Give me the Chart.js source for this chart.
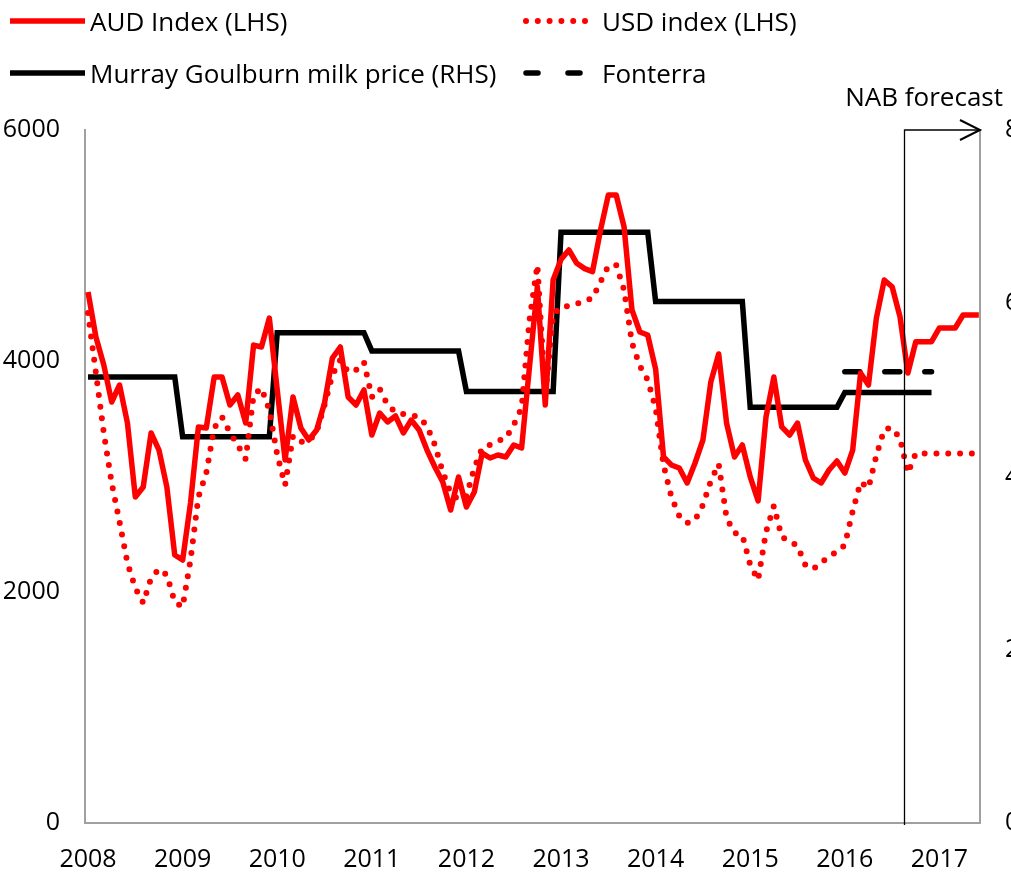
<!DOCTYPE html>
<html>
<head>
<meta charset="utf-8">
<script src="https://cdn.jsdelivr.net/npm/chart.js@4.4.1/dist/chart.umd.min.js"></script>
<style>
  body { margin: 0; background: #fff; font-family: "Open Sans", sans-serif; }
  #wrap { position: relative; width: 1011px; height: 872px; overflow: hidden; }
  #chart { position: absolute; left: 0; top: 0; }
  #legendLines { position: absolute; left: 0; top: 0; }
  .leg { position: absolute; font-size: 26px; line-height: 30px; color: #000; white-space: nowrap; }
</style>
</head>
<body>
<div id="wrap">
  <canvas id="chart" width="1011" height="872"></canvas>
  <svg id="legendLines" width="1011" height="110">
    <line x1="10" y1="21" x2="85" y2="21" stroke="#ff0000" stroke-width="5.5"/>
    <line x1="526" y1="21" x2="592" y2="21" stroke="#ff0000" stroke-width="6" stroke-linecap="round" stroke-dasharray="0 11.8"/>
    <line x1="10" y1="73" x2="85" y2="73" stroke="#000" stroke-width="5.5"/>
    <line x1="526" y1="73" x2="582" y2="73" stroke="#000" stroke-width="5.5" stroke-linecap="round" stroke-dasharray="12 30"/>
  </svg>
  <div class="leg" style="left:90px;top:6px">AUD Index (LHS)</div>
  <div class="leg" style="left:602px;top:6px">USD index (LHS)</div>
  <div class="leg" style="left:90px;top:58px">Murray Goulburn milk price (RHS)</div>
  <div class="leg" style="left:602px;top:58px">Fonterra</div>
</div>
<script>
// 月次データ 2008年1月〜
const startYear = 2008;
const audIndex = [
  4597, 4208, 3965, 3645, 3792, 3463, 2822, 2909, 3377, 3229, 2909, 2320,
  2277, 2770, 3429, 3420, 3861, 3861, 3619, 3706, 3463, 4138, 4121, 4372,
  3750, 3143, 3688, 3420, 3316, 3403, 3636, 4026, 4121, 3688, 3619, 3749,
  3359, 3550, 3472, 3524, 3377, 3489, 3403, 3229, 3082, 2952, 2710, 2996,
  2736, 2866, 3203, 3160, 3186, 3169, 3273, 3247, 3950, 4643, 3619, 4701,
  4880, 4961, 4846, 4800, 4774, 5130, 5437, 5437, 5160, 4442, 4251, 4225,
  3930, 3170, 3100, 3074, 2944, 3117, 3316, 3818, 4061, 3463, 3169, 3273,
  2996, 2788, 3515, 3861, 3429, 3359, 3463, 3143, 2987, 2944, 3056, 3134,
  3030, 3229, 3896, 3792, 4370, 4701, 4643, 4383, 3896, 4167, 4167, 4167,
  4286, 4286, 4286, 4398, 4398, 4398
];
const usdIndex = [
  4415, 3896, 3377, 2944, 2606, 2251, 2035, 1905, 2121, 2199, 2147, 1913,
  1870, 2277, 2822, 3030, 3420, 3515, 3380, 3270, 3150, 3705, 3766, 3576,
  3186, 2926, 3350, 3299, 3307, 3385, 3619, 3879, 4009, 3905, 3922, 3991,
  3688, 3758, 3619, 3558, 3541, 3532, 3515, 3437, 3273, 3039, 2857, 2800,
  2830, 3074, 3247, 3273, 3307, 3333, 3446, 3593, 4355, 4831, 3700, 4400,
  4470, 4476, 4494, 4520, 4545, 4684, 4822, 4831, 4615, 4156, 3957, 3835,
  3593, 3100, 2822, 2658, 2597, 2623, 2753, 2961, 3108, 2641, 2511, 2493,
  2234, 2104, 2519, 2745, 2476, 2442, 2398, 2234, 2199, 2251, 2312, 2346,
  2407, 2700, 2950, 2900, 3180, 3410, 3420, 3330, 3030, 3200, 3200, 3200,
  3200, 3200, 3200, 3200, 3200, 3200
];
// 乳価（シーズン毎、12ヶ月ずつ）
const mgSeasonPrice = [5.15, 4.46, 5.66, 5.45, 4.98, 6.82, 6.02, 4.80, 4.97];
const fonterraSeasonPrice = [null, null, null, null, null, null, null, null, 5.21];

const xTickLabels = ['2008', '2009', '2010', '2011', '2012', '2013', '2014', '2015', '2016', '2017'];
const leftTicks = [0, 2000, 4000, 6000];
const rightTicks = [0, 2, 4, 6, 8];
const forecastStart = 2016.63;

const monthX = i => startYear + i / 12;
const toPoints = arr => arr.map((v, i) => ({ x: monthX(i), y: v }));
const seasonPoints = arr => {
  const pts = [];
  arr.forEach((v, s) => {
    if (v == null) return;
    for (let m = 0; m < 12; m++) pts.push({ x: monthX(s * 12 + m), y: v });
  });
  return pts;
};

const FONT = '"Open Sans", sans-serif';

const forecastMarker = {
  id: 'forecastMarker',
  afterDatasetsDraw(chart) {
    const { ctx, chartArea, scales } = chart;
    const x = Math.round(scales.x.getPixelForValue(forecastStart)) + 0.5;
    const top = chartArea.top;
    ctx.save();
    ctx.strokeStyle = '#000';
    ctx.lineWidth = 1.3;
    ctx.beginPath();
    ctx.moveTo(x, chartArea.bottom + 2);
    ctx.lineTo(x, top);
    ctx.lineTo(chartArea.right, top);
    ctx.stroke();
    ctx.lineWidth = 2;
    ctx.beginPath();
    ctx.moveTo(chartArea.right - 20, top - 10);
    ctx.lineTo(chartArea.right, top);
    ctx.lineTo(chartArea.right - 20, top + 10);
    ctx.stroke();
    ctx.fillStyle = '#000';
    ctx.font = '26px ' + FONT;
    ctx.textAlign = 'right';
    ctx.textBaseline = 'alphabetic';
    ctx.fillText('NAB forecast', 1003, 106);
    ctx.restore();
  }
};

const axisBorder = { display: true, color: '#a0a0a0', width: 2 };
const tickFont = { family: FONT, size: 25 };

new Chart(document.getElementById('chart'), {
  type: 'line',
  data: {
    datasets: [
      {
        label: 'AUD Index (LHS)',
        data: toPoints(audIndex),
        borderColor: '#ff0000', borderWidth: 5.5, borderJoinStyle: 'round',
        yAxisID: 'y', pointRadius: 0
      },
      {
        label: 'USD index (LHS)',
        data: toPoints(usdIndex),
        borderColor: '#ff0000', borderWidth: 6, borderCapStyle: 'round',
        borderDash: [0, 11.8],
        yAxisID: 'y', pointRadius: 0
      },
      {
        label: 'Murray Goulburn milk price (RHS)',
        data: seasonPoints(mgSeasonPrice),
        borderColor: '#000', borderWidth: 5.5,
        yAxisID: 'y2', pointRadius: 0
      },
      {
        label: 'Fonterra',
        data: seasonPoints(fonterraSeasonPrice),
        borderColor: '#000', borderWidth: 5.5, borderCapStyle: 'round',
        borderDash: [15, 25],
        yAxisID: 'y2', pointRadius: 0
      }
    ]
  },
  options: {
    responsive: false, animation: false,
    layout: { padding: { top: 130, left: 0, right: 0, bottom: 0 } },
    plugins: { legend: { display: false }, tooltip: { enabled: false } },
    scales: {
      x: {
        type: 'linear', min: 2007.968, max: 2017.429,
        afterBuildTicks: s => { s.ticks = xTickLabels.map(t => ({ value: Number(t) })); },
        afterFit: s => { s.height = 49; },
        grid: { display: false, drawTicks: false },
        border: axisBorder,
        ticks: { autoSkip: false, maxRotation: 0, padding: 22, color: '#000', font: tickFont,
                 callback: (v, i) => xTickLabels[i] }
      },
      y: {
        position: 'left', min: 0, max: 6000,
        afterBuildTicks: s => { s.ticks = leftTicks.map(v => ({ value: v })); },
        afterFit: s => { s.width = 85; },
        grid: { display: false, drawTicks: false },
        border: axisBorder,
        ticks: { padding: 25, color: '#000', font: tickFont, callback: v => String(v) }
      },
      y2: {
        position: 'right', min: 0, max: 8,
        afterBuildTicks: s => { s.ticks = rightTicks.map(v => ({ value: v })); },
        afterFit: s => { s.width = 31; },
        grid: { display: false, drawTicks: false },
        border: axisBorder,
        ticks: { padding: 25, color: '#000', font: tickFont, callback: v => String(v) }
      }
    }
  },
  plugins: [forecastMarker]
});
</script>
</body>
</html>
